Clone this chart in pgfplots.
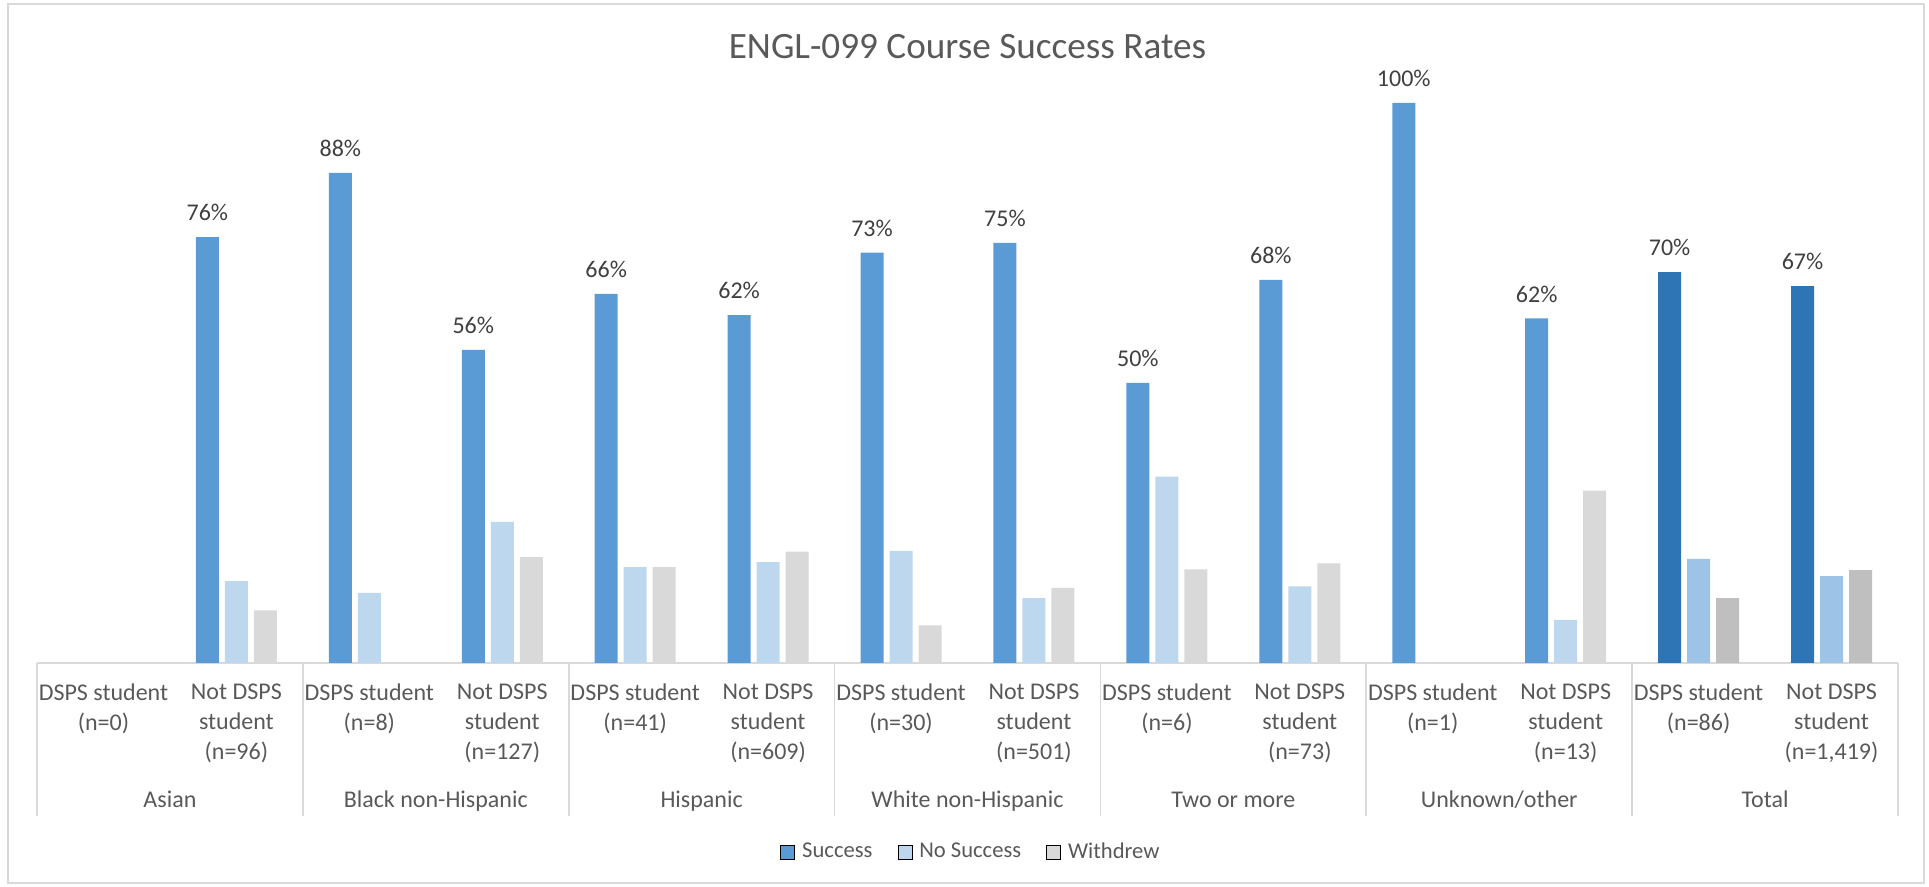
\documentclass[border=0pt]{standalone}
\usepackage{fontspec}
\setmainfont{Carlito}
\usepackage{pgfplots}
\pgfplotsset{compat=1.18}

\definecolor{succ}{HTML}{5B9BD5}
\definecolor{nosucc}{HTML}{BDD7EE}
\definecolor{withd}{HTML}{D9D9D9}
\definecolor{tsucc}{HTML}{2E75B6}
\definecolor{tnosucc}{HTML}{9DC3E6}
\definecolor{twithd}{HTML}{BFBFBF}
\definecolor{txt}{HTML}{595959}
\definecolor{lbl}{HTML}{404040}
\definecolor{rule}{HTML}{D9D9D9}

\pgfplotsset{
  pct labels/.style={
    nodes near coords={\pgfmathprintnumber[fixed,precision=0]{\pgfplotspointmeta}\%},
    every node near coord/.append style={font=\fontsize{12}{14}\selectfont, text=lbl,
      xshift=-14.5pt, yshift=4.5pt},
  },
}

\begin{document}
\begin{tikzpicture}
\useasboundingbox (0,0) rectangle (964.5pt,443.5pt);
\draw[rule, line width=0.8pt] (4pt,2pt) rectangle (962pt,441.5pt);

\node[anchor=base, font=\fontsize{18.6}{22}\selectfont, text=txt] at (483.75pt,414pt) {ENGL-099 Course Success Rates};

\begin{axis}[
  at={(18.5pt,112pt)}, anchor=south west,
  scale only axis, width=930.5pt, height=280pt,
  xmin=-0.5, xmax=13.5, ymin=0, ymax=100,
  axis x line*=bottom, axis y line=none,
  x axis line style={rule, line width=1.2pt},
  xtick={0,...,13},
  xticklabels={
    {DSPS student\\(n=0)}, {Not DSPS\\student\\(n=96)},
    {DSPS student\\(n=8)}, {Not DSPS\\student\\(n=127)},
    {DSPS student\\(n=41)}, {Not DSPS\\student\\(n=609)},
    {DSPS student\\(n=30)}, {Not DSPS\\student\\(n=501)},
    {DSPS student\\(n=6)}, {Not DSPS\\student\\(n=73)},
    {DSPS student\\(n=1)}, {Not DSPS\\student\\(n=13)},
    {DSPS student\\(n=86)}, {Not DSPS\\student\\(n=1,419)}},
  major tick length=0pt,
  extra x ticks={-0.5,1.5,3.5,5.5,7.5,9.5,11.5,13.5},
  extra x tick labels={},
  extra x tick style={major tick length=76.5pt, tick align=outside,
    tick style={rule, line width=0.8pt}},
  xticklabel style={font=\fontsize{12}{15}\selectfont, text=txt, align=center,
    anchor=north, yshift=-7pt},
  /pgf/number format/assume math mode=true,
  clip=false,
  legend columns=3,
  legend image code/.code={\fill[#1] (0pt,-3.5pt) rectangle (7pt,3.5pt); \path (8.5pt,0pt);},
  legend style={draw=none, fill=none, at={(0.5024,-0.3375)}, anchor=center,
    font=\fontsize{11.3}{13}\selectfont, text=txt, column sep=0pt},
]

% Success
\addplot[ybar, bar width=11.5pt, bar shift=-14.5pt, fill=succ, draw=none, forget plot, pct labels]
  coordinates {(1,76.04) (2,87.5) (3,55.9) (4,65.9) (5,62.1) (6,73.3) (7,75.0)
               (8,50.0) (9,68.4) (10,100) (11,61.54)};
% No Success
\addplot[ybar, bar width=11.5pt, bar shift=0pt, fill=nosucc, draw=none, forget plot]
  coordinates {(1,14.6) (2,12.5) (3,25.2) (4,17.1) (5,18.0) (6,20.0) (7,11.6)
               (8,33.3) (9,13.7) (11,7.7)};
% Withdrew
\addplot[ybar, bar width=11.5pt, bar shift=14.5pt, fill=withd, draw=none, forget plot]
  coordinates {(1,9.4) (3,18.9) (4,17.1) (5,19.9) (6,6.7) (7,13.4)
               (8,16.7) (9,17.8) (11,30.8)};

% Total group, darker shades
\addplot[ybar, bar width=11.5pt, bar shift=-14.5pt, fill=tsucc, draw=none, forget plot, pct labels]
  coordinates {(12,69.8) (13,67.3)};
\addplot[ybar, bar width=11.5pt, bar shift=0pt, fill=tnosucc, draw=none, forget plot]
  coordinates {(12,18.6) (13,15.5)};
\addplot[ybar, bar width=11.5pt, bar shift=14.5pt, fill=twithd, draw=none, forget plot]
  coordinates {(12,11.6) (13,16.6)};

\addlegendimage{fill=succ}
\addlegendentry{Success\rule{10.5pt}{0pt}}
\addlegendimage{fill=nosucc}
\addlegendentry{No Success\rule{10.5pt}{0pt}}
\addlegendimage{fill=withd}
\addlegendentry{Withdrew}

% group names
\foreach \g/\name in {0.5/Asian, 2.5/Black non-Hispanic, 4.5/Hispanic,
    6.5/White non-Hispanic, 8.5/Two or more, 10.5/Unknown\slash other, 12.5/Total} {
  \edef\tmp{\noexpand\node[anchor=base, font=\noexpand\fontsize{12}{14}\noexpand\selectfont, text=txt]
    at (axis cs:\g,0) [yshift=-72.5pt] {\name};}
  \tmp
}
\end{axis}
\end{tikzpicture}
\end{document}
